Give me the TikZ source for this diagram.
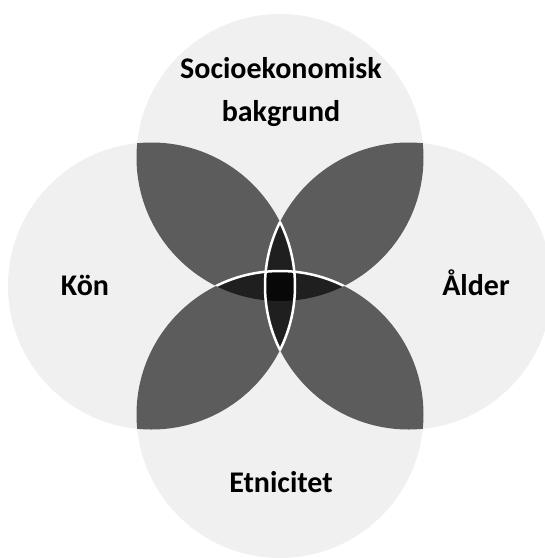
\documentclass[tikz,border=0pt]{standalone}
\usepackage{fontspec}
\setmainfont{Carlito}
\begin{document}
\begin{tikzpicture}[x=1pt,y=-1pt,
  single/.style={fill=black!6},
  pair/.style={fill=black!64},
  triple/.style={fill=black!88},
  quad/.style={fill=black!97},
  rim/.style={draw=white,line width=2.5pt},
  lbl/.style={font=\fontsize{30}{43}\selectfont\bfseries,inner sep=0pt,text=black,align=center}]
\useasboundingbox (0,0) rectangle (545,558);
\clip (0,0) rectangle (545,558);
\def\rr{143.5pt}
\coordinate (T) at (280,157.5);
\coordinate (B) at (280,414.5);
\coordinate (L) at (151.5,286);
\coordinate (R) at (408.5,286);
% single circles
\fill[single] (T) circle (\rr) (B) circle (\rr) (L) circle (\rr) (R) circle (\rr);
% pairwise overlaps
\begin{scope}\clip (T) circle (\rr); \fill[pair] (L) circle (\rr) (R) circle (\rr); \end{scope}
\begin{scope}\clip (B) circle (\rr); \fill[pair] (L) circle (\rr) (R) circle (\rr); \end{scope}
\begin{scope}\clip (T) circle (\rr); \fill[pair] (B) circle (\rr); \end{scope}
\begin{scope}\clip (L) circle (\rr); \fill[pair] (R) circle (\rr); \end{scope}
% triple overlaps
\begin{scope}\clip (L) circle (\rr); \clip (R) circle (\rr); \fill[triple] (T) circle (\rr) (B) circle (\rr); \end{scope}
\begin{scope}\clip (T) circle (\rr); \clip (B) circle (\rr); \fill[triple] (L) circle (\rr) (R) circle (\rr); \end{scope}
% quadruple overlap
\begin{scope}\clip (L) circle (\rr); \clip (R) circle (\rr); \clip (T) circle (\rr); \fill[quad] (B) circle (\rr); \end{scope}
% white rims inside the dark centre
\begin{scope}\clip (L) circle (\rr); \draw[rim] (R) circle (\rr); \end{scope}
\begin{scope}\clip (R) circle (\rr); \draw[rim] (L) circle (\rr); \end{scope}
\begin{scope}\clip (T) circle (\rr); \draw[rim] (B) circle (\rr); \end{scope}
% labels
\node[lbl,anchor=north] (soc) at (281,57) {Socioekonomisk\\bakgrund};
\node[lbl,anchor=base] (kon) at (85,295) {Kön};
\node[lbl,anchor=base] (alder) at (476,295) {Ålder};
\node[lbl,anchor=base] (etn) at (281,492) {Etnicitet};
\end{tikzpicture}
\end{document}
